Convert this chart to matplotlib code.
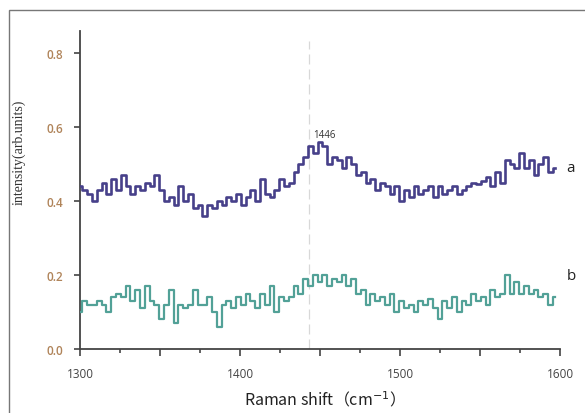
import numpy as np
import matplotlib
matplotlib.use("Agg")
import matplotlib.pyplot as plt
from matplotlib.patches import Rectangle
from matplotlib.ticker import MultipleLocator, FuncFormatter

x_start = 1300
x_step = 3
series_a = [0.44, 0.43, 0.42, 0.40, 0.43, 0.45, 0.42, 0.46, 0.43, 0.47,
            0.44, 0.42, 0.44, 0.43, 0.45, 0.44, 0.47, 0.43, 0.40, 0.41,
            0.39, 0.44, 0.40, 0.42, 0.38, 0.39, 0.36, 0.39, 0.38, 0.40,
            0.39, 0.41, 0.40, 0.42, 0.39, 0.41, 0.43, 0.40, 0.46, 0.42,
            0.41, 0.43, 0.46, 0.44, 0.45, 0.48, 0.50, 0.52, 0.55, 0.53,
            0.56, 0.55, 0.50, 0.52, 0.51, 0.49, 0.52, 0.50, 0.47, 0.48,
            0.45, 0.46, 0.43, 0.45, 0.44, 0.42, 0.44, 0.40, 0.43, 0.41,
            0.44, 0.42, 0.43, 0.44, 0.41, 0.44, 0.42, 0.43, 0.44, 0.42,
            0.43, 0.44, 0.45, 0.445, 0.455, 0.465, 0.44, 0.48, 0.45, 0.51,
            0.50, 0.49, 0.53, 0.49, 0.51, 0.47, 0.50, 0.52, 0.48, 0.49]
series_b = [0.10, 0.13, 0.12, 0.12, 0.13, 0.12, 0.10, 0.14, 0.15, 0.14,
            0.17, 0.13, 0.16, 0.11, 0.17, 0.13, 0.12, 0.08, 0.12, 0.16,
            0.07, 0.12, 0.11, 0.12, 0.16, 0.12, 0.12, 0.14, 0.10, 0.06,
            0.12, 0.13, 0.11, 0.14, 0.12, 0.15, 0.13, 0.11, 0.15, 0.12,
            0.17, 0.10, 0.14, 0.13, 0.14, 0.17, 0.15, 0.19, 0.17, 0.20,
            0.18, 0.20, 0.17, 0.19, 0.18, 0.20, 0.17, 0.19, 0.15, 0.16,
            0.12, 0.15, 0.13, 0.14, 0.12, 0.15, 0.10, 0.13, 0.11, 0.12,
            0.10, 0.13, 0.12, 0.135, 0.11, 0.08, 0.13, 0.11, 0.14, 0.10,
            0.13, 0.12, 0.15, 0.13, 0.14, 0.12, 0.16, 0.14, 0.15, 0.20,
            0.15, 0.18, 0.15, 0.17, 0.15, 0.16, 0.14, 0.15, 0.12, 0.14]
peak_pos = 1443
peak_label = "1446"
x_ticks = [1300, 1400, 1500, 1600]
y_ticks = [0.0, 0.2, 0.4, 0.6, 0.8]

xa = x_start + x_step * np.arange(len(series_a))
xb = x_start + x_step * np.arange(len(series_b))

fig = plt.figure(figsize=(5.85, 4.14), dpi=100)
ax = fig.add_axes([80/585, 1-350/414, 480/585, 318/414])

ax.axvline(peak_pos, color="#d8d8d8", lw=0.9, ls=(0, (8, 4)), ymax=0.97, zorder=1)
ax.step(xa, series_a, where="mid", color="#47408a", lw=1.9, zorder=3)
ax.step(xb, series_b, where="mid", color="#52a197", lw=1.6, zorder=3)

ax.set_xlim(1300, 1600)
ax.set_ylim(0, 0.86)
for s in ["top", "right"]:
    ax.spines[s].set_visible(False)
for s in ["left", "bottom"]:
    ax.spines[s].set_color("#444444")
    ax.spines[s].set_linewidth(1.3)

ax.xaxis.set_major_locator(MultipleLocator(50))
ax.xaxis.set_minor_locator(MultipleLocator(25))
ax.xaxis.set_major_formatter(FuncFormatter(lambda v, p: f"{int(round(v))}" if int(round(v)) in x_ticks else ""))
ax.set_yticks(y_ticks)
ax.set_yticklabels([f"{v:.1f}" for v in y_ticks])
ax.tick_params(axis="x", which="major", length=5, width=1.2, color="#444444",
               labelsize=8.5, labelcolor="#444444", pad=8)
ax.tick_params(axis="x", which="minor", length=3, width=1.2, color="#444444")
ax.tick_params(axis="y", length=4, width=1.2, color="#444444",
               labelsize=8.5, labelcolor="#b0845a", pad=8)
for lab in ax.get_yticklabels():
    lab.set_fontweight("semibold")
    lab.set_family("Open Sans")
for lab in ax.get_xticklabels():
    lab.set_family("Open Sans")

ax.text(1446, 0.565, peak_label, fontsize=7, color="#333333", ha="left", va="bottom",
        family="Open Sans")
ax.text(1604, 0.49, "a", fontsize=11, color="#222222", ha="left", va="center", clip_on=False,
        family="Open Sans")
ax.text(1604, 0.20, "b", fontsize=11, color="#222222", ha="left", va="center", clip_on=False,
        family="Open Sans")

fig.text(320/585, 1-400/414, "Raman shift（cm$^{-1}$）", fontsize=11.5, color="#222222",
         ha="center", va="center", family=["Noto Sans CJK SC", "DejaVu Sans"])
fig.text(19/585, 1-152/414, "intensity(arb.units)", fontsize=10, rotation=90,
         ha="center", va="center", family="Liberation Serif", color="#333333")

fig.patches.append(Rectangle((9/585, -0.05), 1.2, 1-11/414+0.05, transform=fig.transFigure,
                             fill=False, edgecolor="#777777", lw=1.0))

fig.savefig("out.png", dpi=100)
